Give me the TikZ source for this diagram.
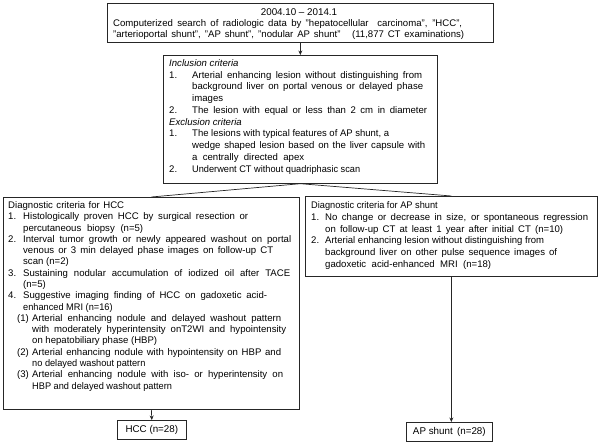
\documentclass[tikz,border=0pt]{standalone}
\usepackage{fontspec}
\setmainfont{Liberation Sans}
\usetikzlibrary{arrows.meta}
\newcommand{\nb}[2]{\makebox[#1][l]{#2}}
\newsavebox\flbox
\newdimen\fldim
\newcommand{\fl}[2]{\sbox\flbox{#2}\fldim=#1pt\relax
  \ifdim\wd\flbox>\fldim
    \ifdim 0.96\wd\flbox>\fldim \fldim=0.96\wd\flbox\fi
    \resizebox{\fldim}{\height}{\usebox\flbox}%
  \else\makebox[\fldim][s]{#2}\fi}
\begin{document}
\begin{tikzpicture}[x=1pt,y=-1pt,
  box/.style={draw=black!85, line width=0.7pt, inner sep=0pt, anchor=north west},
  lbl/.style={draw=black!85, line width=0.7pt, inner sep=0pt, anchor=north west, font=\fontsize{9.8}{11}\selectfont},
  txt/.style={inner sep=0pt, anchor=base west},
  conn/.style={draw=black!85, line width=0.7pt},
  arr/.style={conn, -{Stealth[length=4.5pt,width=4pt]}}]
\useasboundingbox (0,0) rectangle (600,443);
% boxes
\node[box, minimum width=386pt, minimum height=39pt] (top) at (107,3) {};
\node[box, minimum width=274pt, minimum height=128pt] (crit) at (163,55) {};
\node[box, minimum width=296pt, minimum height=212pt] (hccbox) at (3,197) {};
\node[box, minimum width=292pt, minimum height=80pt] (apbox) at (305,196) {};
\node[lbl, minimum width=69pt, minimum height=19pt] (hcc) at (117,420) {HCC (n=28)};
\node[lbl, minimum width=86pt, minimum height=19pt] (ap) at (406,422) {AP shunt\, (n=28)};
% texts
\node[inner sep=0pt, anchor=base, font=\fontsize{9.8}{11}\selectfont] (t1) at (299,15.5) {2004.10 -- 2014.1};
\node[txt] (t2) at (113,26.5) {\parbox[t]{400pt}{\fontsize{9.6}{11}\selectfont
\fl{349}{Computerized search of radiologic data by "hepatocellular\ \ carcinoma", "HCC",}\\
\fl{351}{"arterioportal shunt", "AP shunt", "nodular AP shunt"\ \ \ (11,877 CT examinations)}}};
\node[txt] (t3) at (169,66.5) {\parbox[t]{300pt}{\fontsize{9.6}{11.75}\selectfont
\textit{Inclusion criteria}\\
\nb{23pt}{1.}\fl{230}{Arterial enhancing lesion without distinguishing from}\\
\hspace*{23pt}\fl{231}{background liver on portal venous or delayed phase}\\
\hspace*{23pt}images\\
\nb{23pt}{2.}\fl{235}{The lesion with equal or less than 2 cm in diameter}\\
\textit{Exclusion criteria}\\
\nb{23pt}{1.}\fl{197}{The lesions with typical features of AP shunt, a}\\
\hspace*{23pt}\fl{233}{wedge shaped lesion based on the liver capsule with}\\
\hspace*{23pt}\fl{112}{a centrally directed apex}\\
\nb{23pt}{2.}\fl{165}{Underwent CT without quadriphasic scan}}};
\node[txt] (t4) at (8,208.5) {\parbox[t]{320pt}{\fontsize{9.6}{11.29}\selectfont
\fl{116}{Diagnostic criteria for HCC}\\
\nb{15pt}{1.}\fl{225}{Histologically proven HCC by surgical resection or}\\
\hspace*{15pt}\fl{120}{percutaneous biopsy (n=5)}\\
\nb{15pt}{2.}\fl{268}{Interval tumor growth or newly appeared washout on portal}\\
\hspace*{15pt}\fl{250}{venous or 3 min delayed phase images on follow-up CT}\\
\hspace*{15pt}scan (n=2)\\
\nb{15pt}{3.}\fl{267}{Sustaining nodular accumulation of iodized oil after TACE}\\
\hspace*{15pt}(n=5)\\
\nb{15pt}{4.}\fl{244}{Suggestive imaging finding of HCC on gadoxetic acid-}\\
\hspace*{15pt}\fl{84}{enhanced MRI (n=16)}\\
\hspace*{9pt}\nb{15pt}{(1)}\fl{249}{Arterial enhancing nodule and delayed washout pattern}\\
\hspace*{24pt}\fl{254}{with moderately hyperintensity onT2WI and hypointensity}\\
\hspace*{24pt}\fl{125}{on hepatobiliary phase (HBP)}\\
\hspace*{9pt}\nb{15pt}{(2)}\fl{249}{Arterial enhancing nodule with hypointensity on HBP and}\\
\hspace*{24pt}\fl{110}{no delayed washout pattern}\\
\hspace*{9pt}\nb{15pt}{(3)}\fl{251}{Arterial enhancing nodule with iso- or hyperintensity on}\\
\hspace*{24pt}\fl{126}{HBP and delayed washout pattern}}};
\node[txt] (t5) at (311,208.5) {\parbox[t]{320pt}{\fontsize{9.6}{11.8}\selectfont
\fl{117}{Diagnostic criteria for AP shunt}\\
\nb{14pt}{1.}\fl{263}{No change or decrease in size, or spontaneous regression}\\
\hspace*{14pt}\fl{238}{on follow-up CT at least 1 year after initial CT (n=10)}\\
\nb{14pt}{2.}\fl{219}{Arterial enhancing lesion without distinguishing from}\\
\hspace*{14pt}\fl{232}{background liver on other pulse sequence images of}\\
\hspace*{14pt}\fl{166}{gadoxetic acid-enhanced MRI (n=18)}}};
% connectors
\draw[arr] (top.south) -- (crit.north);
\draw[conn] (crit.south) -- (hccbox.north);
\draw[conn] (crit.south) -- (apbox.north);
\draw[arr] (hccbox.south) -- (hcc.north);
\draw[arr] (apbox.south) -- (apbox.south |- ap.north);
\end{tikzpicture}
\end{document}
